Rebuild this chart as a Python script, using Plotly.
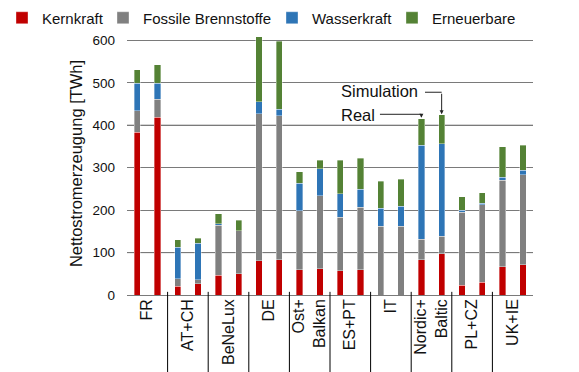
import plotly.graph_objects as go

# Regions and net electricity generation [TWh] per source: real vs. simulation
regions = ["FR", "AT+CH", "BeNeLux", "DE", "Ost+<br>Balkan", "ES+PT", "IT",
           "Nordic+<br>Baltic", "PL+CZ", "UK+IE"]

real_kern = [384, 21, 46, 81, 60, 57, 0, 83, 23, 67]
real_foss = [50, 17, 118, 346, 139, 126, 162, 48, 172, 203]
real_wass = [65, 74, 4, 28, 64, 56, 42, 222, 5, 8]
real_erne = [32, 18, 24, 154, 28, 79, 64, 62, 32, 71]

sim_kern = [419, 27, 50, 83, 62, 60, 0, 97, 30, 71]
sim_foss = [43, 9, 101, 339, 172, 147, 162, 41, 183, 213]
sim_wass = [37, 86, 1, 16, 64, 42, 47, 219, 3, 10]
sim_erne = [44, 12, 24, 160, 20, 73, 64, 68, 25, 59]

y_ticks = [0, 100, 200, 300, 400, 500, 600]
dark_grid = [100, 400]

series = [
    ("Kernkraft", real_kern, sim_kern, "#C00000"),
    ("Fossile Brennstoffe", real_foss, sim_foss, "#808080"),
    ("Wasserkraft", real_wass, sim_wass, "#2E75B6"),
    ("Erneuerbare", real_erne, sim_erne, "#548235"),
]

OFFSET = 0.25
n = len(regions)
x_real = [i - OFFSET for i in range(n)]
x_sim = [i + OFFSET for i in range(n)]

FONT = "Liberation Sans, Arial, sans-serif"
W, H = 579, 372

# one legend per source so the entries sit in a single row at fixed spots
legend_ids = ["legend", "legend2", "legend3", "legend4"]
legend_left_px = [2, 103, 272, 392]

fig = go.Figure()
for (name, real, sim, color), lid in zip(series, legend_ids):
    fig.add_trace(go.Bar(
        name=name,
        x=x_real + x_sim,
        y=real + sim,
        width=0.155,
        legend=lid,
        marker=dict(color=color, line=dict(color="rgba(255,255,255,0.45)", width=0.8)),
    ))

shapes = []
# darker grid lines
for v in dark_grid:
    shapes.append(dict(type="line", xref="paper", yref="y", x0=0, x1=1, y0=v, y1=v,
                       layer="below", line=dict(color="#1a1a1a", width=1)))

# group separators below the axis
for i in range(n - 1):
    shapes.append(dict(type="line", xref="x", yref="paper", x0=i + 0.5, x1=i + 0.5,
                       y0=-0.3, y1=0.012, line=dict(color="black", width=1)))

# callouts for the Nordic+Baltic pair
k = 7
real_total = real_kern[k] + real_foss[k] + real_wass[k] + real_erne[k]
sim_total = sim_kern[k] + sim_foss[k] + sim_wass[k] + sim_erne[k]
sim_line_y = 478
real_line_y = 426
shapes.append(dict(type="line", xref="x", yref="y", x0=6.84, x1=x_sim[k],
                   y0=sim_line_y, y1=sim_line_y, line=dict(color="#222", width=1)))
shapes.append(dict(type="line", xref="x", yref="y", x0=5.73, x1=x_real[k],
                   y0=real_line_y, y1=real_line_y, line=dict(color="#222", width=1)))

annotations = [
    dict(x=x_sim[k], y=sim_total + 1, ax=x_sim[k], ay=sim_line_y, xref="x", yref="y",
         axref="x", ayref="y", showarrow=True, arrowhead=2, arrowsize=0.8,
         arrowwidth=1, arrowcolor="#222", text=""),
    dict(x=x_real[k], y=real_total + 3, ax=x_real[k], ay=real_line_y, xref="x", yref="y",
         axref="x", ayref="y", showarrow=True, arrowhead=2, arrowsize=0.8,
         arrowwidth=1, arrowcolor="#222", text=""),
    dict(x=4.72, y=sim_line_y + 2, xref="x", yref="y", text="Simulation", showarrow=False,
         xanchor="left", yanchor="middle", font=dict(size=16.5, color="#111", family=FONT)),
    dict(x=4.72, y=real_line_y - 1, xref="x", yref="y", text="Real", showarrow=False,
         xanchor="left", yanchor="middle", font=dict(size=16.5, color="#111", family=FONT)),
]

layout_legends = {}
for lid, left in zip(legend_ids, legend_left_px):
    layout_legends[lid] = dict(
        orientation="h", xref="container", yref="container",
        x=left / W, y=1 - 18 / H, xanchor="left", yanchor="middle",
        font=dict(size=15, family=FONT, color="#111"), itemwidth=30,
        bgcolor="rgba(0,0,0,0)",
    )

fig.update_layout(
    width=W, height=H,
    margin=dict(l=127, r=46, t=32, b=77, autoexpand=False),
    barmode="stack",
    plot_bgcolor="white", paper_bgcolor="white",
    font=dict(family=FONT, color="#111"),
    showlegend=True,
    shapes=shapes,
    annotations=annotations,
    xaxis=dict(range=[-0.5, n - 0.5], tickvals=list(range(n)), ticktext=regions,
               tickangle=-90, showgrid=False, zeroline=False, showline=False,
               ticks="", tickfont=dict(size=16, family=FONT)),
    yaxis=dict(range=[0, 620], tickvals=y_ticks,
               showgrid=True, gridcolor="#7a7a7a", gridwidth=1,
               zeroline=True, zerolinecolor="#7a7a7a", zerolinewidth=1,
               ticks="", ticklabelstandoff=11, tickfont=dict(size=13.5, family=FONT),
               title=dict(text="Nettostromerzeugung [TWh]", standoff=5,
                          font=dict(size=16.5, family=FONT))),
    **layout_legends,
)

fig.write_html("out.html")
